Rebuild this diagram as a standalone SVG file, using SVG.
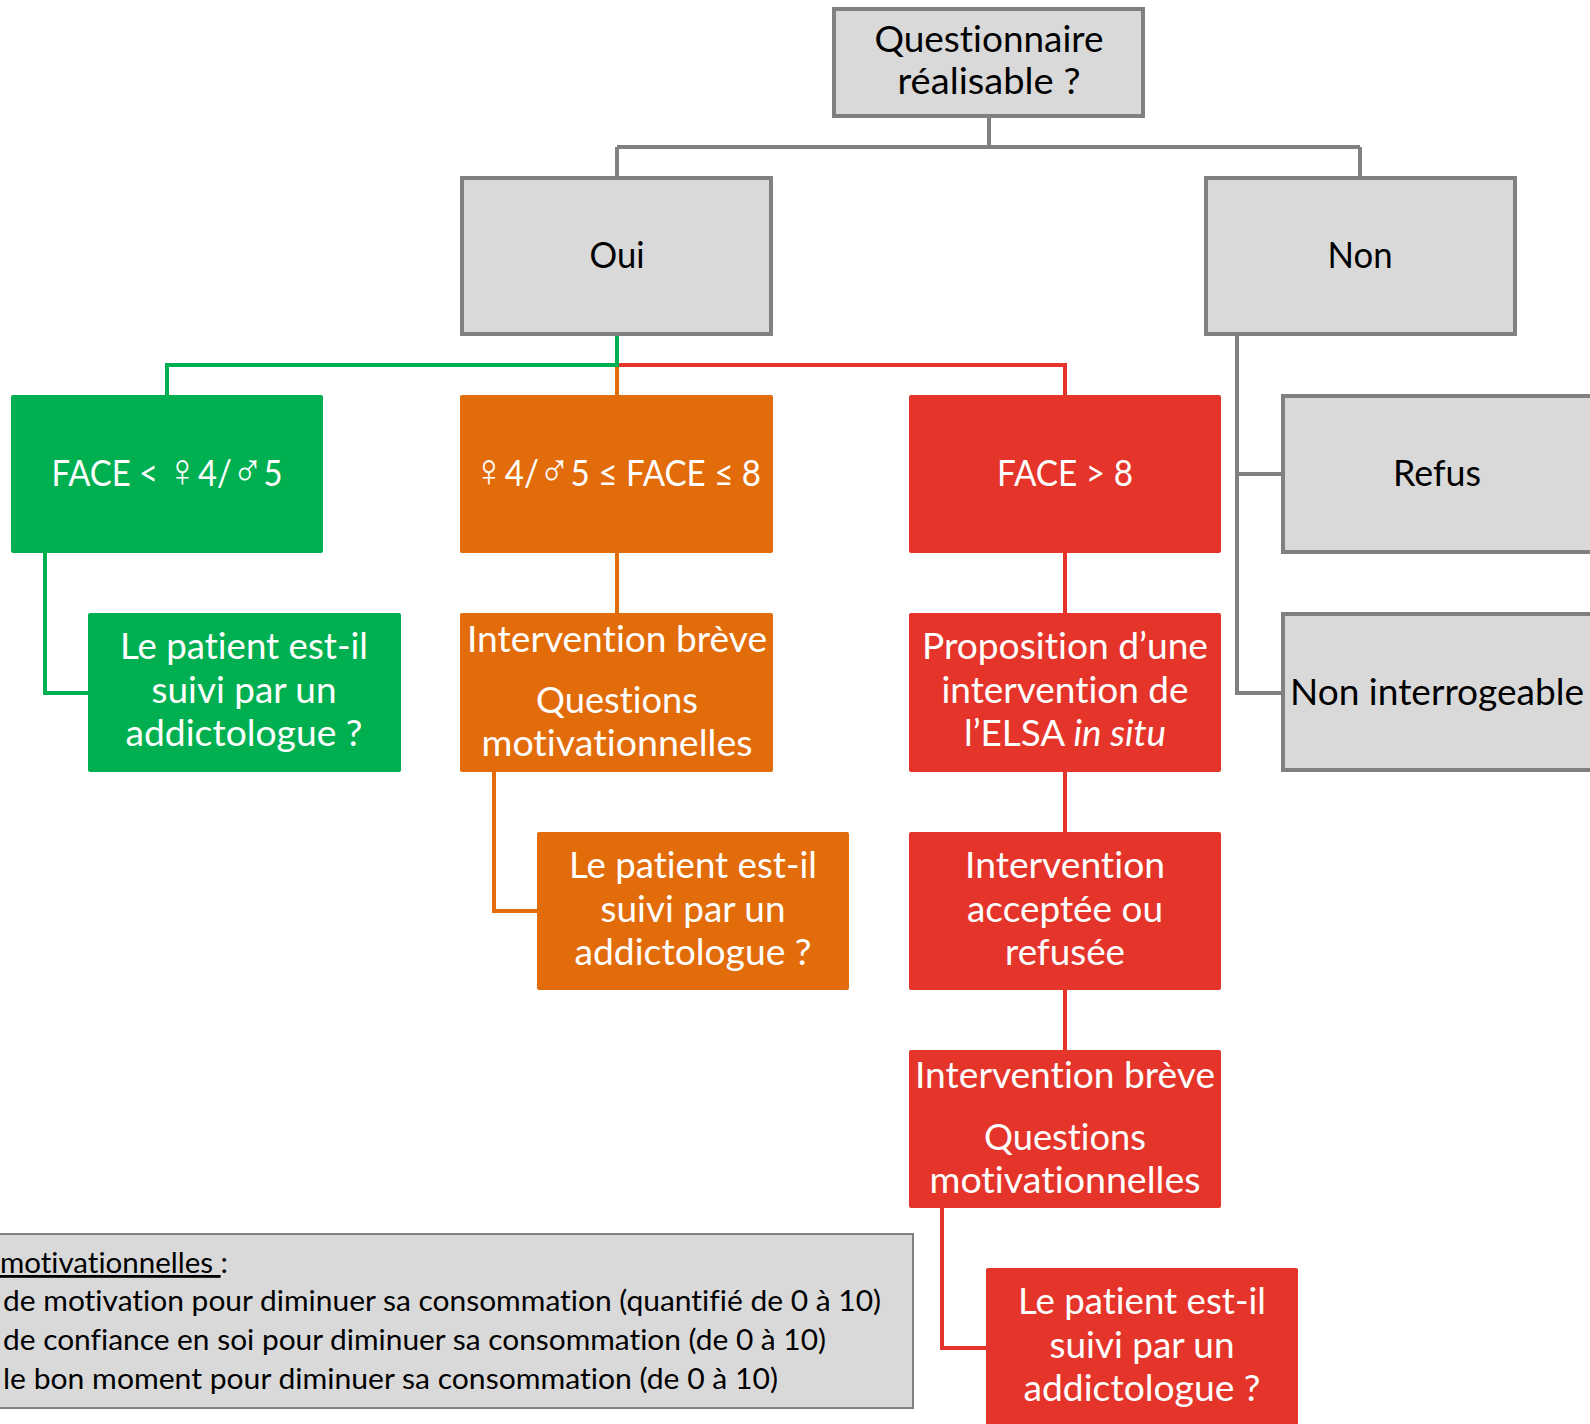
<svg xmlns="http://www.w3.org/2000/svg" width="1590" height="1424" viewBox="0 0 1590 1424">
<style>
.t{font-family:Lato,"Open Sans","Liberation Sans",sans-serif;font-size:36px;text-anchor:middle;font-variant-ligatures:none}
.w{fill:#ffffff}
.k{fill:#000000}
.sym{font-family:"DejaVu Sans","Noto Sans",sans-serif;font-size:46px;font-weight:200}
.g{fill:#d9d9d9;stroke:#808080;stroke-width:4}
.cg{stroke:#808080;stroke-width:4;fill:none}
.cgr{stroke:#00b050;stroke-width:4;fill:none}
.cor{stroke:#e36c0a;stroke-width:4;fill:none}
.crd{stroke:#e5352b;stroke-width:4;fill:none}
.lg{font-family:Lato,"Open Sans","Liberation Sans",sans-serif;font-size:28px;fill:#000;font-variant-ligatures:none}
</style>
<rect width="1590" height="1424" fill="#ffffff"/>
<g id="connectors">
<path class="cg" d="M989 116V147M617 147H1360M617 147V178M1360 147V178"/>
<path class="cg" d="M1237 334V693H1283M1237 474H1283"/>
<path class="cor" d="M617 365V395M617 553V613M494 772V911H537"/>
<path class="crd" d="M617 365H1065V395M1065 553V613M1065 772V832M1065 990V1050M942 1208V1348H986"/>
<path class="cgr" d="M617 334V365H167V395M45 553V693H88"/>
</g>
<g id="legend">
<rect x="-10" y="1234" width="923" height="174" fill="#d9d9d9" stroke="#808080" stroke-width="2"/>
<text class="lg" x="0" y="1273" textLength="228" lengthAdjust="spacingAndGlyphs"><tspan text-decoration="underline">motivationnelles </tspan>:</text>
<text class="lg" x="3" y="1311" textLength="878" lengthAdjust="spacingAndGlyphs">de motivation pour diminuer sa consommation (quantifié de 0 à 10)</text>
<text class="lg" x="3" y="1350" textLength="823" lengthAdjust="spacingAndGlyphs">de confiance en soi pour diminuer sa consommation (de 0 à 10)</text>
<text class="lg" x="3" y="1389" textLength="775" lengthAdjust="spacingAndGlyphs">le bon moment pour diminuer sa consommation (de 0 à 10)</text>
</g>
<g id="n-question">
<rect class="g" x="834" y="9" width="309" height="107"/>
<text class="t k" x="989" y="52" textLength="229" lengthAdjust="spacingAndGlyphs">Questionnaire</text>
<text class="t k" x="989" y="94" textLength="183" lengthAdjust="spacingAndGlyphs">réalisable ?</text>
</g>
<g id="n-oui">
<rect class="g" x="462" y="178" width="309" height="156"/>
<text class="t k" x="617" y="268" textLength="55" lengthAdjust="spacingAndGlyphs">Oui</text>
</g>
<g id="n-non">
<rect class="g" x="1206" y="178" width="309" height="156"/>
<text class="t k" x="1360" y="268" textLength="65" lengthAdjust="spacingAndGlyphs">Non</text>
</g>
<g id="n-face-low">
<rect x="11" y="395" width="312" height="158" rx="2" fill="#00b050"/>
<text class="t w" x="167" y="486" textLength="231" lengthAdjust="spacingAndGlyphs">FACE &lt; <tspan class="sym">♀</tspan>4/<tspan class="sym">♂</tspan>5</text>
</g>
<g id="n-face-mid">
<rect x="460" y="395" width="313" height="158" rx="2" fill="#e36c0a"/>
<text class="t w" x="617" y="486" textLength="288" lengthAdjust="spacingAndGlyphs"><tspan class="sym">♀</tspan>4/<tspan class="sym">♂</tspan>5 ≤ FACE ≤ 8</text>
</g>
<g id="n-face-high">
<rect x="909" y="395" width="312" height="158" rx="2" fill="#e5352b"/>
<text class="t w" x="1065" y="486" textLength="136" lengthAdjust="spacingAndGlyphs">FACE &gt; 8</text>
</g>
<g id="n-refus">
<rect class="g" x="1283" y="396" width="330" height="156"/>
<text class="t k" x="1437" y="486" textLength="88" lengthAdjust="spacingAndGlyphs">Refus</text>
</g>
<g id="n-noninterro">
<rect class="g" x="1283" y="614" width="330" height="156"/>
<text class="t k" x="1437" y="705" textLength="294" lengthAdjust="spacingAndGlyphs">Non interrogeable</text>
</g>
<g id="n-green-suivi">
<rect x="88" y="613" width="313" height="159" rx="2" fill="#00b050"/>
<text class="t w" x="244" y="659" textLength="248" lengthAdjust="spacingAndGlyphs">Le patient est-il</text>
<text class="t w" x="244" y="703" textLength="185" lengthAdjust="spacingAndGlyphs">suivi par un</text>
<text class="t w" x="244" y="746" textLength="237" lengthAdjust="spacingAndGlyphs">addictologue ?</text>
</g>
<g id="n-orange-ib">
<rect x="460" y="613" width="313" height="159" rx="2" fill="#e36c0a"/>
<text class="t w" x="617" y="652" textLength="300" lengthAdjust="spacingAndGlyphs">Intervention brève</text>
<text class="t w" x="617" y="713" textLength="162" lengthAdjust="spacingAndGlyphs">Questions</text>
<text class="t w" x="617" y="756" textLength="271" lengthAdjust="spacingAndGlyphs">motivationnelles</text>
</g>
<g id="n-orange-suivi">
<rect x="537" y="832" width="312" height="158" rx="2" fill="#e36c0a"/>
<text class="t w" x="693" y="878" textLength="248" lengthAdjust="spacingAndGlyphs">Le patient est-il</text>
<text class="t w" x="693" y="922" textLength="185" lengthAdjust="spacingAndGlyphs">suivi par un</text>
<text class="t w" x="693" y="965" textLength="237" lengthAdjust="spacingAndGlyphs">addictologue ?</text>
</g>
<g id="n-red-proposition">
<rect x="909" y="613" width="312" height="159" rx="2" fill="#e5352b"/>
<text class="t w" x="1065" y="659" textLength="286" lengthAdjust="spacingAndGlyphs">Proposition d’une</text>
<text class="t w" x="1065" y="703" textLength="247" lengthAdjust="spacingAndGlyphs">intervention de</text>
<text class="t w" x="1065" y="746" textLength="202" lengthAdjust="spacingAndGlyphs">l’ELSA <tspan font-style="italic">in situ</tspan></text>
</g>
<g id="n-red-acceptee">
<rect x="909" y="832" width="312" height="158" rx="2" fill="#e5352b"/>
<text class="t w" x="1065" y="878" textLength="200" lengthAdjust="spacingAndGlyphs">Intervention</text>
<text class="t w" x="1065" y="922" textLength="196" lengthAdjust="spacingAndGlyphs">acceptée ou</text>
<text class="t w" x="1065" y="965" textLength="120" lengthAdjust="spacingAndGlyphs">refusée</text>
</g>
<g id="n-red-ib">
<rect x="909" y="1050" width="312" height="158" rx="2" fill="#e5352b"/>
<text class="t w" x="1065" y="1088" textLength="300" lengthAdjust="spacingAndGlyphs">Intervention brève</text>
<text class="t w" x="1065" y="1150" textLength="162" lengthAdjust="spacingAndGlyphs">Questions</text>
<text class="t w" x="1065" y="1193" textLength="271" lengthAdjust="spacingAndGlyphs">motivationnelles</text>
</g>
<g id="n-red-suivi">
<rect x="986" y="1268" width="312" height="170" rx="2" fill="#e5352b"/>
<text class="t w" x="1142" y="1314" textLength="248" lengthAdjust="spacingAndGlyphs">Le patient est-il</text>
<text class="t w" x="1142" y="1358" textLength="185" lengthAdjust="spacingAndGlyphs">suivi par un</text>
<text class="t w" x="1142" y="1401" textLength="237" lengthAdjust="spacingAndGlyphs">addictologue ?</text>
</g>
</svg>
